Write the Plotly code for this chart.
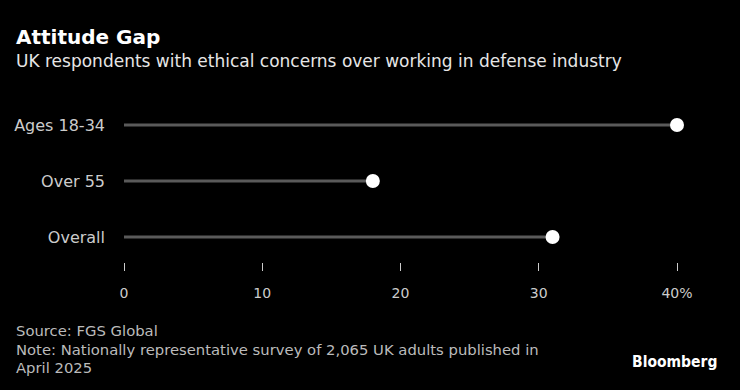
import plotly.graph_objects as go

categories = ["Ages 18-34", "Over 55", "Overall"]
values = [40, 18, 31]
x_ticks = [0, 10, 20, 30, 40]
x_tick_labels = ["0", "10", "20", "30", "40%"]

FONT = "DejaVu Sans"
ypos = [2, 1, 0]

fig = go.Figure()
for cat, v, y in zip(categories, values, ypos):
    fig.add_trace(go.Scatter(x=[0, v], y=[y, y], mode="lines",
                             line=dict(color="#5a5a5a", width=3),
                             hoverinfo="skip", showlegend=False, cliponaxis=False))
fig.add_trace(go.Scatter(x=values, y=ypos, mode="markers",
                         marker=dict(color="white", size=14),
                         showlegend=False, cliponaxis=False))

L, R, T, B = 124, 63, 100, 128
plot_w = 740 - L - R
plot_h = 390 - T - B

ann = [
    dict(text="<b>Attitude Gap</b>", px=14, py=37, size=20, color="white"),
    dict(text="UK respondents with ethical concerns over working in defense industry", px=14, py=61, size=17, color="#e6e6e6"),
    dict(text="Source: FGS Global", px=14, py=330, size=14.8, color="#bbbbbb"),
    dict(text="Note: Nationally representative survey of 2,065 UK adults published in", px=14, py=349, size=14.8, color="#bbbbbb"),
    dict(text="April 2025", px=14, py=367, size=14.8, color="#bbbbbb"),
]
annotations = []
for a in ann:
    annotations.append(dict(
        text=a["text"], xref="paper", yref="paper",
        x=(a["px"] - L) / plot_w, y=(390 - B - a["py"]) / plot_h,
        xanchor="left", yanchor="middle", showarrow=False,
        font=dict(size=a["size"], color=a["color"], family=FONT)))
annotations.append(dict(
    text="<b>Bloomberg</b>", xref="paper", yref="paper",
    x=(719 - L) / plot_w, y=(390 - B - 362) / plot_h,
    xanchor="right", yanchor="middle", showarrow=False,
    font=dict(size=15.5, color="white", family="DejaVu Sans Condensed")))

fig.update_layout(
    width=740, height=390,
    paper_bgcolor="black", plot_bgcolor="black",
    margin=dict(l=L, r=R, t=T, b=B),
    font=dict(family=FONT, color="#cccccc", size=15),
    xaxis=dict(range=[0, 40], tickvals=x_ticks, ticktext=x_tick_labels,
               showgrid=False, zeroline=False, showline=False,
               ticks="outside", ticklen=8, tickwidth=1, tickcolor="#cccccc",
               ticklabelstandoff=10, tickfont=dict(size=14, color="#cccccc")),
    yaxis=dict(range=[-0.446, 2.446], tickvals=ypos, ticktext=categories,
               showgrid=False, zeroline=False, showline=False,
               ticklabelstandoff=18, tickfont=dict(size=16, color="#cccccc")),
    annotations=annotations,
)

fig.write_html("out.html", config={"displayModeBar": False},
               post_script="document.body.style.margin='0';document.body.style.background='black';")
